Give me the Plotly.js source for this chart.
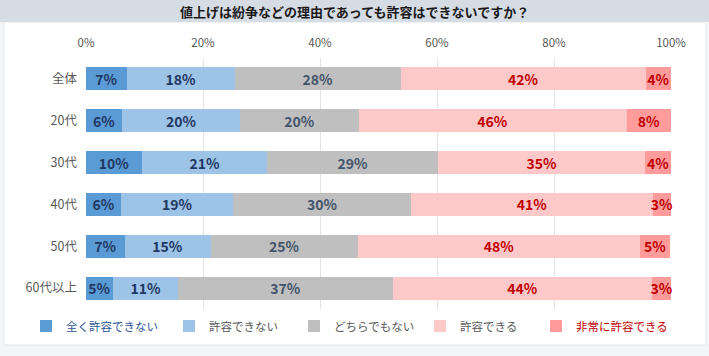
<!DOCTYPE html>
<html>
<head>
<meta charset="utf-8">
<script src="https://cdn.plot.ly/plotly-3.0.1.min.js"></script>
<style>html,body{margin:0;padding:0;background:#fff;}#chart{width:709px;height:356px;}</style>
</head>
<body>
<div id="chart"></div>
<script>
const categories = ['全体','20代','30代','40代','50代','60代以上'];
const seriesNames = ['全く許容できない','許容できない','どちらでもない','許容できる','非常に許容できる'];
const v1 = [7.0, 6.2, 9.6, 6.0, 6.6, 4.6];
const v2 = [18.4, 20.2, 21.4, 19.2, 14.7, 11.2];
const v3 = [28.4, 20.2, 29.2, 30.4, 25.2, 36.6];
const v4 = [41.9, 45.8, 35.4, 41.3, 48.2, 44.4];
const v5 = [4.3, 7.6, 4.4, 3.1, 5.2, 3.2];
const xTickVals = [0, 20, 40, 60, 80, 100];
const xTickText = ['0%', '20%', '40%', '60%', '80%', '100%'];
const titleText = '値上げは紛争などの理由であっても許容はできないですか？';

const seriesValues = [v1, v2, v3, v4, v5];
const barColors = ['#5B9BD5', '#9DC3E6', '#BFBFBF', '#FFC9C9', '#FF9B9B'];
const textColors = ['#1F3864', '#1F3864', '#44546A', '#C00000', '#C00000'];
const legendColors = ['#2E5597', '#595959', '#595959', '#595959', '#C00000'];
const legendX = [26, 169, 294, 420, 536];
const FONT = '"Noto Sans CJK JP", "Noto Sans", sans-serif';
const legendIds = ['legend', 'legend2', 'legend3', 'legend4', 'legend5'];

const traces = seriesValues.map((vals, i) => ({
  type: 'bar',
  orientation: 'h',
  y: categories,
  x: vals,
  name: '<span style="color:' + legendColors[i] + '">' + seriesNames[i] + '</span>',
  legend: legendIds[i],
  marker: {color: barColors[i]},
  texttemplate: '%{x:.0f}%',
  textposition: 'inside',
  insidetextanchor: 'middle',
  textangle: 0,
  constraintext: 'none',
  cliponaxis: false,
  textfont: {family: FONT, size: 14, color: textColors[i], weight: 'bold'},
  hoverinfo: 'skip'
}));

// plot area: x 86..671, y 58..309
const L = 86, R = 38, T = 58, B = 47, W = 709, H = 356;
const pw = W - L - R, ph = H - T - B;
const px = x => (x - L) / pw;
const py = y => (H - B - y) / ph;

const layout = {
  width: W, height: H,
  margin: {l: L, r: R, t: T, b: B, pad: 0},
  paper_bgcolor: '#F3F5F7',
  plot_bgcolor: 'rgba(0,0,0,0)',
  barmode: 'stack',
  bargap: 0.45,
  showlegend: true,
  uniformtext: {minsize: 14, mode: 'show'},
  font: {family: FONT, color: '#595959'},
  xaxis: {
    side: 'top', range: [0, 100], tickmode: 'array', tickvals: xTickVals, ticktext: xTickText,
    showgrid: true, gridcolor: '#E3E3E3', gridwidth: 1, zeroline: false,
    showline: false, ticks: '', tickfont: {family: FONT, size: 11.5, color: '#595959'},
    ticklabelstandoff: 8, fixedrange: true
  },
  yaxis: {
    autorange: 'reversed', showgrid: false, zeroline: false, showline: false,
    ticks: '', tickfont: {family: FONT, size: 12.5, color: '#595959'},
    ticklabelstandoff: 8, fixedrange: true
  },
  shapes: [
    {type: 'rect', xref: 'paper', yref: 'paper', layer: 'below',
     x0: px(4), x1: px(706), y0: py(345), y1: py(22),
     fillcolor: '#FFFFFF', line: {color: '#E4E7EB', width: 1}},
    {type: 'rect', xref: 'paper', yref: 'paper', layer: 'below',
     x0: px(0), x1: px(709), y0: py(22), y1: py(0),
     fillcolor: '#D6DCE4', line: {width: 0}}
  ],
  annotations: [
    {text: '<b>' + titleText + '</b>', xref: 'paper', yref: 'paper',
     x: px(354), y: py(12), xanchor: 'center', yanchor: 'middle', showarrow: false,
     font: {family: FONT, size: 13, color: '#1A1A1A'}}
  ]
};

legendIds.forEach((id, i) => {
  layout[id] = {
    orientation: 'h', xref: 'container', yref: 'container',
    x: legendX[i] / W, xanchor: 'left', y: 30 / H, yanchor: 'middle',
    font: {family: FONT, size: 11.5, color: '#595959'},
    bgcolor: 'rgba(0,0,0,0)', itemclick: false, visible: true
  };
});

Plotly.newPlot('chart', traces, layout, {displayModeBar: false, staticPlot: true});
</script>
</body>
</html>
